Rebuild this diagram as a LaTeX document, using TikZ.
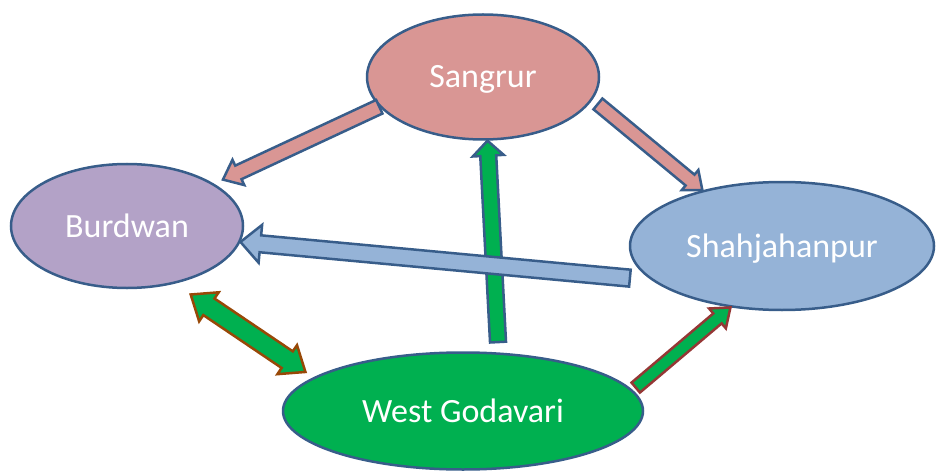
\documentclass[tikz,border=0pt]{standalone}
\usepackage{fontspec}
\setmainfont{Carlito}
\usetikzlibrary{calc,shapes.geometric}
\definecolor{sangfill}{HTML}{D99694}
\definecolor{burdfill}{HTML}{B3A2C7}
\definecolor{shahfill}{HTML}{95B3D7}
\definecolor{wgfill}{HTML}{00B050}
\definecolor{linecol}{HTML}{385D8A}
\definecolor{brownline}{HTML}{984807}
\definecolor{redline}{HTML}{953735}
% block arrow: [style]{tail}{head}{half shaft}{half head}{head length}
\newcommand\blockarrow[6][]{%
  \path (#2) coordinate (ta) (#3) coordinate (hd);
  \path ($(hd)!#6!(ta)$) coordinate (nk);
  \draw[#1] ($(ta)!#4!90:(hd)$) -- ($(nk)!#4!90:(hd)$) -- ($(nk)!#5!90:(hd)$) -- (hd)
    -- ($(nk)!#5!-90:(hd)$) -- ($(nk)!#4!-90:(hd)$) -- ($(ta)!#4!-90:(hd)$) -- cycle;}
% same with a head on both ends
\newcommand\dblockarrow[6][]{%
  \path (#2) coordinate (ta) (#3) coordinate (hd);
  \path ($(ta)!#6!(hd)$) coordinate (nka) ($(hd)!#6!(ta)$) coordinate (nkb);
  \draw[#1] (ta) -- ($(nka)!#5!90:(hd)$) -- ($(nka)!#4!90:(hd)$) -- ($(nkb)!#4!90:(hd)$)
    -- ($(nkb)!#5!90:(hd)$) -- (hd) -- ($(nkb)!#5!-90:(hd)$) -- ($(nkb)!#4!-90:(hd)$)
    -- ($(nka)!#4!-90:(hd)$) -- ($(nka)!#5!-90:(hd)$) -- cycle;}
\begin{document}
\begin{tikzpicture}[x=1pt,y=1pt,line join=miter,
  place/.style={ellipse,draw=linecol,line width=2.5pt,inner sep=0pt,text=white,
    font=\fontsize{34}{40}\selectfont,text height=22pt,text depth=0pt},
  arr/.style={line width=2.5pt}]
  \useasboundingbox (0,0) rectangle (936,472);
  \node[place,fill=sangfill,minimum width=232pt,minimum height=125pt] (sang) at (483,395) {Sangrur};
  \node[place,fill=burdfill,minimum width=232pt,minimum height=124pt] (burd) at (127,246) {Burdwan};
  \node[place,fill=shahfill,minimum width=304pt,minimum height=128pt] (shah) at (782,226) {Shahjahanpur};
  \node[place,fill=wgfill,minimum width=360pt,minimum height=117pt] (wg) at (463,61) {West Godavari};
  % arrows
  \blockarrow[arr,draw=linecol,fill=sangfill]{sang.196}{$(burd.26)+(9,4)$}{7.5pt}{14pt}{17pt}
  \blockarrow[arr,draw=linecol,fill=sangfill]{$(sang.-13)+(7,-2)$}{shah.145}{7pt}{13pt}{16pt}
  \blockarrow[arr,draw=linecol,fill=wgfill]{$(wg.63)+(5,10)$}{sang.-86}{8pt}{15.5pt}{15pt}
  \blockarrow[arr,draw=linecol,fill=shahfill]{$(shah.192)+(-15,-3)$}{burd.-8}{8.5pt}{19pt}{20pt}
  \dblockarrow[arr,draw=brownline,fill=wgfill]{$(burd.-47)+(11,-12)$}{$(wg.166)+(-13,3)$}{10pt}{17.5pt}{22pt}
  \blockarrow[arr,draw=redline,fill=wgfill]{$(wg.8)+(6,0)$}{shah.230}{6.5pt}{13pt}{17pt}
\end{tikzpicture}
\end{document}
